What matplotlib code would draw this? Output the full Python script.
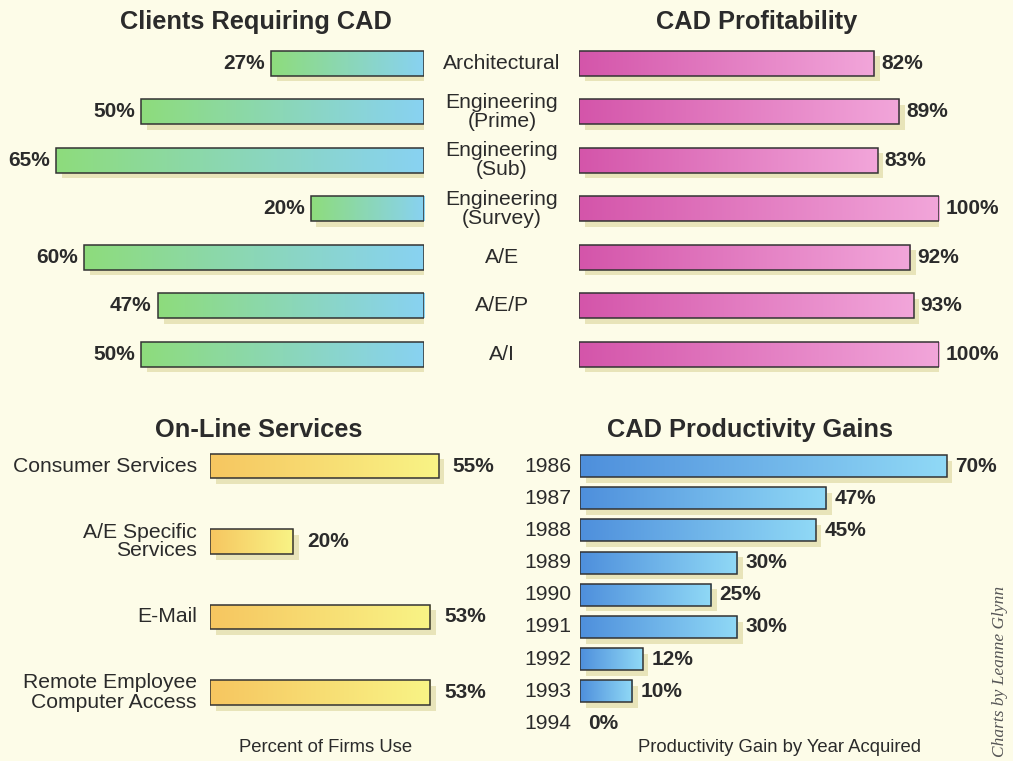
import matplotlib
matplotlib.use("Agg")
import matplotlib.pyplot as plt
import numpy as np
from matplotlib import patheffects as pe
from matplotlib import transforms as mtrans
from matplotlib.colors import to_rgb

# ---------------- data ----------------
firm_types = ["Architectural", "Engineering\n(Prime)", "Engineering\n(Sub)",
              "Engineering\n(Survey)", "A/E", "A/E/P", "A/I"]
clients_cad = [27, 50, 65, 20, 60, 47, 50]
profitability = [82, 89, 83, 100, 92, 93, 100]

services = ["Consumer Services", "A/E Specific\nServices", "E-Mail",
            "Remote Employee\nComputer Access"]
services_use = [55, 20, 53, 53]

years = ["1986", "1987", "1988", "1989", "1990", "1991", "1992", "1993", "1994"]
gains = [70, 47, 45, 30, 25, 30, 12, 10, 0]

titles = ["Clients Requiring CAD", "CAD Profitability", "On-Line Services",
          "CAD Productivity Gains"]
xlabels = ["Percent of Firms Use", "Productivity Gain by Year Acquired"]
credit = "Charts by Leanne Glynn"

# ---------------- style ----------------
W, H = 1013, 761
BG = "#FDFCE8"
TXT = "#2B2B2B"
EDGE = "#333333"
SHADOW = "#E6E2B4"
FONT = ["Liberation Sans", "DejaVu Sans"]
plt.rcParams["font.family"] = FONT

fig = plt.figure(figsize=(W / 100, H / 100), dpi=100, facecolor=BG)


def px_axes(left, top, width, height):
    ax = fig.add_axes([left / W, 1 - (top + height) / H, width / W, height / H])
    ax.set_facecolor("none")
    ax.axis("off")
    return ax


def gradient_bars(ax, values, height, c_start, c_end):
    n = len(values)
    ys = np.arange(n)
    c0, c1 = np.array(to_rgb(c_start)), np.array(to_rgb(c_end))
    t = np.linspace(0, 1, 256)[:, None]
    grad = (c0 * (1 - t) + c1 * t)[None, :, :]
    ax.barh(ys, values, height=height, facecolor="none", edgecolor="none",
            zorder=1,
            path_effects=[pe.SimplePatchShadow(offset=(4, -4),
                                               shadow_rgbFace=SHADOW,
                                               alpha=0.9)])
    bars = ax.barh(ys, values, height=height, facecolor="none",
                   edgecolor=EDGE, linewidth=1.1, zorder=3)
    for b, v, y in zip(bars, values, ys):
        if v <= 0:
            b.set_visible(False)
            continue
        im = ax.imshow(grad, extent=(0, v, y + height / 2, y - height / 2),
                       aspect="auto", zorder=2, interpolation="bicubic")
        im.set_clip_path(b)
    return bars


def value_labels(ax, values, dx, ha):
    for i, v in enumerate(values):
        ax.annotate(f"{v}%", (v, i), xytext=(dx, 0), textcoords="offset points",
                    ha=ha, va="center", fontsize=15, fontweight="bold",
                    color=TXT)


LBL = 15.2

# ---------- Clients Requiring CAD (top-left, reversed) ----------
s1 = 5.66
ax1 = px_axes(424 - 70 * s1, 39, 70 * s1, 339.5)
gradient_bars(ax1, clients_cad, 0.52, "#88D2F2", "#8EDC7C")
ax1.set_xlim(70, 0)
ax1.set_ylim(6.5, -0.5)
value_labels(ax1, clients_cad, -4.5, "right")

# ---------- CAD Profitability (top-right) ----------
s2 = 3.6
ax2 = px_axes(579, 39, 100 * s2, 339.5)
gradient_bars(ax2, profitability, 0.52, "#D455AA", "#F2A6DA")
ax2.set_xlim(0, 100)
ax2.set_ylim(6.5, -0.5)
value_labels(ax2, profitability, 5, "left")

# centre category labels
tr = mtrans.blended_transform_factory(fig.transFigure, ax2.transData)
for i, lab in enumerate(firm_types):
    fig.text(502 / W, i, lab, transform=tr, ha="center", va="center",
             fontsize=LBL, color=TXT, linespacing=1.0, multialignment="center")

# ---------- On-Line Services (bottom-left) ----------
s3 = 4.16
ax3 = px_axes(210, 428.25, 60 * s3, 302)
gradient_bars(ax3, services_use, 0.33, "#F6C660", "#F9F486")
ax3.set_xlim(0, 60)
ax3.set_ylim(3.5, -0.5)
value_labels(ax3, services_use, 10, "left")
for i, lab in enumerate(services):
    ax3.annotate(lab, (0, i), xytext=(-9.5, 0), textcoords="offset points",
                 ha="right", va="center", fontsize=LBL, color=TXT,
                 linespacing=1.0, multialignment="right")

# ---------- CAD Productivity Gains (bottom-right) ----------
s4 = 5.24
ax4 = px_axes(580, 449.9, 75 * s4, 289.8)
gradient_bars(ax4, gains, 0.68, "#4E8FDC", "#90D9F6")
ax4.set_xlim(0, 75)
ax4.set_ylim(8.5, -0.5)
value_labels(ax4, gains, 6, "left")
for i, lab in enumerate(years):
    ax4.annotate(lab, (0, i), xytext=(-6, 0), textcoords="offset points",
                 ha="right", va="center", fontsize=LBL, color=TXT)

# ---------- titles & axis captions ----------
fig.text(256 / W, 1 - 22 / H, titles[0], ha="center", va="center",
         fontsize=18.3, fontweight="bold", color=TXT)
fig.text(757 / W, 1 - 22 / H, titles[1], ha="center", va="center",
         fontsize=18.3, fontweight="bold", color=TXT)
fig.text(259 / W, 1 - 430 / H, titles[2], ha="center", va="center",
         fontsize=18.3, fontweight="bold", color=TXT)
fig.text(750 / W, 1 - 430 / H, titles[3], ha="center", va="center",
         fontsize=18.3, fontweight="bold", color=TXT)
fig.text(326 / W, 1 - 748 / H, xlabels[0], ha="center", va="center",
         fontsize=13.3, color=TXT)
fig.text(780 / W, 1 - 748 / H, xlabels[1], ha="center", va="center",
         fontsize=13.3, color=TXT)

# photo credit along the right edge
fig.text(1000 / W, 1 - 757 / H, credit, rotation=90, ha="center", va="bottom",
         fontsize=12.5, style="italic", color="#555555",
         family=["Liberation Serif", "DejaVu Serif"])

fig.savefig("out.png", dpi=100, facecolor=BG)
